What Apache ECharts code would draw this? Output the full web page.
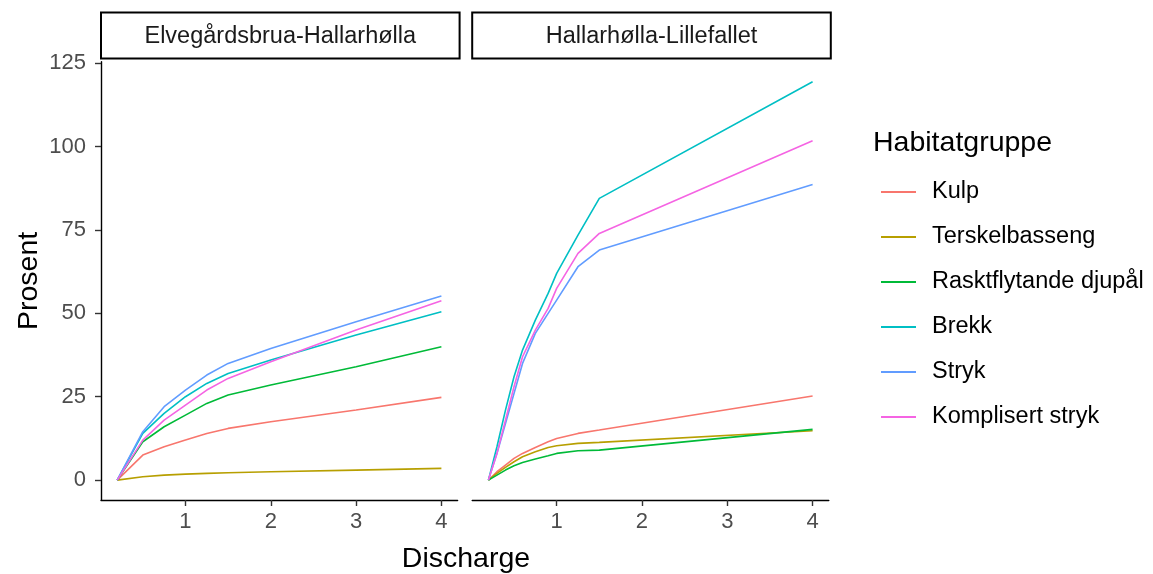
<!DOCTYPE html>
<html>
<head>
<meta charset="utf-8">
<script src="https://cdn.jsdelivr.net/npm/echarts@6/dist/echarts.min.js"></script>
<style>
html,body{margin:0;padding:0;background:#fff;}
#c{width:1153px;height:574px;}
</style>
</head>
<body>
<div id="c"></div>
<script>
// ---- data ----
const groups = ["Kulp", "Terskelbasseng", "Rasktflytande djupål", "Brekk", "Stryk", "Komplisert stryk"];
const panels = ["Elvegårdsbrua-Hallarhølla", "Hallarhølla-Lillefallet"];
const xLeft = [0.2, 0.5, 0.75, 1, 1.25, 1.5, 2, 3, 4];
const leftKulp = [0, 7.5, 10, 12, 14, 15.5, 17.5, 21, 24.8];
const leftTerskel = [0, 1.0, 1.5, 1.8, 2.0, 2.2, 2.5, 3.0, 3.5];
const leftRaskt = [0, 11.5, 16, 19.5, 23, 25.5, 28.5, 34, 40];
const leftBrekk = [0, 14, 20, 25, 29, 32, 36, 43.5, 50.5];
const leftStryk = [0, 14.5, 22, 27, 31.5, 35, 39.5, 47.5, 55.2];
const leftKompl = [0, 12, 18, 22.5, 27, 30.5, 35.5, 45, 53.8];
const xRight = [0.2, 0.3, 0.4, 0.5, 0.6, 0.75, 0.9, 1, 1.25, 1.5, 4];
const rightKulp = [0, 2.5, 4.5, 6.5, 8, 9.8, 11.5, 12.5, 14, 15, 25.2];
const rightTerskel = [0, 2, 3.8, 5.5, 7, 8.5, 9.8, 10.3, 11, 11.3, 14.8];
const rightRaskt = [0, 1.5, 3, 4.3, 5.3, 6.3, 7.3, 8, 8.8, 9, 15.2];
const rightBrekk = [0, 10, 21, 31, 39, 48, 56, 62, 73.5, 84.5, 119.5];
const rightStryk = [0, 8, 17, 26, 35, 44, 50, 54, 64, 69, 88.7];
const rightKompl = [0, 8, 18, 28, 37, 45, 51.5, 57.5, 68, 74, 101.8];
const yTicks = [0, 25, 50, 75, 100, 125];
const xTicks = [1, 2, 3, 4];

// ---- styling ----
const colors = ["#F8766D", "#B79F00", "#00BA38", "#00BFC4", "#619CFF", "#F564E3"];
const FONT = "'Liberation Sans', Arial, sans-serif";
const leftVals = [leftKulp, leftTerskel, leftRaskt, leftBrekk, leftStryk, leftKompl];
const rightVals = [rightKulp, rightTerskel, rightRaskt, rightBrekk, rightStryk, rightKompl];

const xMin = 0.01, xMax = 4.19, yMin = -5.975, yMax = 125.475;
const gridTop = 61.8, gridH = 438.2, gridW = 356.6;
const gridLefts = [101, 472.2];

const series = [];
[[xLeft, leftVals], [xRight, rightVals]].forEach(([xs, vals], p) => {
  vals.forEach((arr, g) => {
    series.push({
      name: groups[g], type: 'line', xAxisIndex: p, yAxisIndex: p,
      data: xs.map((x, i) => [x, arr[i]]),
      showSymbol: false, symbol: 'none', smooth: false,
      lineStyle: { color: colors[g], width: 1.6 },
      itemStyle: { color: colors[g] },
      emphasis: { disabled: true }, silent: true
    });
  });
});

const xAxisBase = (i) => ({
  type: 'value', gridIndex: i, min: xMin, max: xMax,
  axisLine: { show: true, onZero: false, lineStyle: { color: '#000', width: 1.4 } },
  axisTick: { show: true, length: 6, lineStyle: { color: '#333', width: 1.4 }, customValues: xTicks },
  axisLabel: { color: '#4D4D4D', fontSize: 22, fontFamily: FONT, margin: 11, customValues: xTicks },
  splitLine: { show: false }
});

const option = {
  animation: false,
  backgroundColor: '#fff',
  color: colors,
  textStyle: { fontFamily: FONT },
  grid: gridLefts.map(l => ({ left: l, top: gridTop, width: gridW, height: gridH, containLabel: false })),
  xAxis: [xAxisBase(0), xAxisBase(1)],
  yAxis: [
    {
      type: 'value', gridIndex: 0, min: yMin, max: yMax,
      name: 'Prosent', nameLocation: 'middle', nameGap: 57,
      nameTextStyle: { fontSize: 28.5, color: '#000', fontFamily: FONT },
      axisLine: { show: true, onZero: false, lineStyle: { color: '#000', width: 1.4 } },
      axisTick: { show: true, length: 6, lineStyle: { color: '#333', width: 1.4 }, customValues: yTicks },
      axisLabel: { color: '#4D4D4D', fontSize: 22, fontFamily: FONT, margin: 15, customValues: yTicks },
      splitLine: { show: false }
    },
    {
      type: 'value', gridIndex: 1, min: yMin, max: yMax,
      axisLine: { show: false }, axisTick: { show: false }, axisLabel: { show: false },
      splitLine: { show: false }
    }
  ],
  title: [
    { text: 'Discharge', left: 461, top: 540, textAlign: 'center',
      textStyle: { fontSize: 28.5, fontWeight: 'normal', color: '#000', fontFamily: FONT } },
    { text: 'Habitatgruppe', left: 868, top: 124,
      textStyle: { fontSize: 28.5, fontWeight: 'normal', color: '#000', fontFamily: FONT } }
  ],
  legend: {
    orient: 'vertical', left: 876, top: 175,
    data: groups,
    icon: 'rect', itemWidth: 35, itemHeight: 2, itemGap: 21,
    textStyle: { fontSize: 23.5, color: '#000', fontFamily: FONT, padding: [0, 0, 0, 11] },
    selectedMode: false
  },
  graphic: panels.map((t, i) => ({
    type: 'group',
    children: [
      { type: 'rect', shape: { x: gridLefts[i], y: 12.5, width: gridW + 2, height: 46 },
        style: { fill: '#fff', stroke: '#000', lineWidth: 2 } },
      { type: 'text', x: gridLefts[i] + (gridW + 2) / 2, y: 37,
        style: { text: t, fontSize: 23.5, fill: '#1A1A1A', fontFamily: FONT, align: 'center', verticalAlign: 'middle' } }
    ]
  })),
  series: series
};

const chart = echarts.init(document.getElementById('c'), null, { renderer: 'canvas' });
chart.setOption(option);
</script>
</body>
</html>
